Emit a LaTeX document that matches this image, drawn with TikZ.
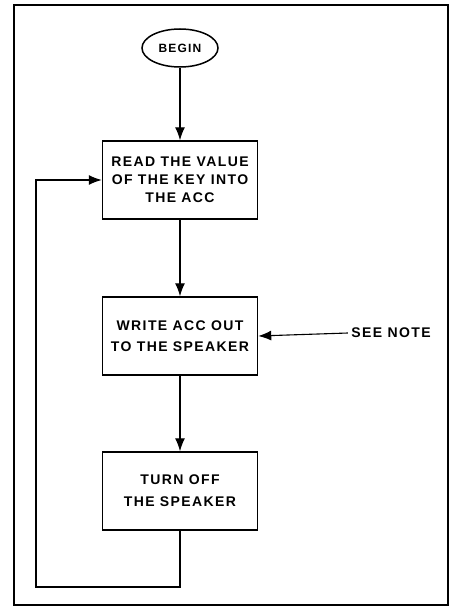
\documentclass[tikz,border=0pt]{standalone}
\usepackage{fontspec}
\newfontfamily\chartfont{Liberation Sans}[LetterSpace=10]
\usetikzlibrary{shapes.geometric,arrows.meta}

\begin{document}
\begin{tikzpicture}[x=1pt,y=-1pt,
	flowbox/.style={draw, line width=1.5pt, minimum width=155pt, minimum height=78pt, align=center, font=\chartfont\bfseries\fontsize{14}{18}\selectfont},
	flow/.style={line width=1.1pt, -{Latex[length=13pt,width=10pt]}}]
		\useasboundingbox (0,0) rectangle (455,607);
		\draw[line width=1.8pt] (14,5) rectangle (448,605);
		\node[draw, ellipse, line width=1.5pt, minimum width=76pt, minimum height=38pt, font=\chartfont\bfseries\fontsize{12}{14}\selectfont] (begin) at (180,48) {BEGIN};
		\node[flowbox] (read) at (180,180) {READ THE VALUE\\OF THE KEY INTO\\THE ACC};
		\node[flowbox] (write) at (180,336) {WRITE ACC OUT\\[3pt]TO THE SPEAKER};
		\node[flowbox] (turnoff) at (180,491) {TURN OFF\\[4pt]THE SPEAKER};
		\node[font=\chartfont\bfseries\fontsize{14}{16}\selectfont] (note) at (391,333) {SEE NOTE};
		\coordinate (loopcorner) at (36,587);
		\draw[flow] (begin) -- (read);
		\draw[flow] (read) -- (write);
		\draw[flow] (write) -- (turnoff);
		\draw[flow] (turnoff.south) |- (loopcorner) |- (read.west);
		\draw[flow] (note.west) -- (write.east);


	\end{tikzpicture}
\end{document}
